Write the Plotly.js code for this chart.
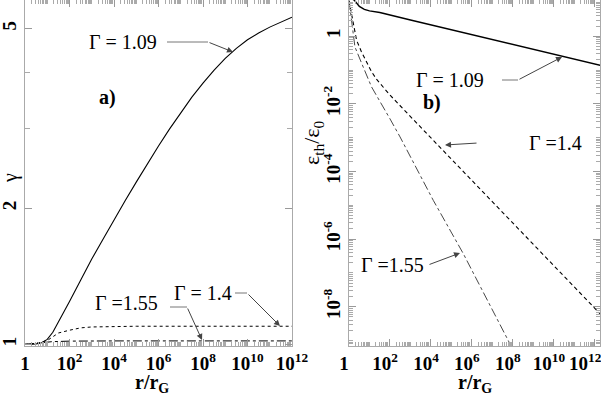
<!DOCTYPE html>
<html>
<head>
<meta charset="utf-8">
<script src="https://cdn.plot.ly/plotly-3.0.1.min.js"></script>
<style>
  body { margin: 0; background: #fff; }
  #plot { width: 601px; height: 397px; }
</style>
</head>
<body>
<div id="plot"></div>
<script>
// ---- panel a) : gamma vs r/r_G ----
const r_a_109 = [1, 3.16, 5.62, 10, 17.8, 31.6, 56.2, 100, 316, 1e3, 3.16e3, 1e4, 3.16e4, 1e5, 3.16e5, 1e6, 3.16e6, 1e7, 3.16e7, 1e8, 3.16e8, 1e9, 3.16e9, 1e10, 3.16e10, 1e11, 3.16e11, 1e12];
const g_a_109 = [1.0, 1.002, 1.009, 1.026, 1.064, 1.119, 1.18, 1.245, 1.387, 1.545, 1.706, 1.886, 2.08, 2.286, 2.512, 2.748, 2.999, 3.258, 3.524, 3.784, 4.046, 4.295, 4.519, 4.721, 4.887, 5.035, 5.164, 5.297];
const r_a_14 = [1, 3.2, 10, 20, 32, 100, 320, 1e3, 1e4, 1e5, 1e8, 1e12];
const g_a_14 = [1.0, 1.005, 1.02, 1.045, 1.06, 1.075, 1.088, 1.093, 1.096, 1.097, 1.097, 1.097];
const r_a_155 = [1, 6.3, 16, 100, 1e4, 1e12];
const g_a_155 = [1.0, 1.008, 1.014, 1.017, 1.018, 1.018];

// ---- panel b) : eps_th/eps_0 vs r/r_G ----
const r_b_109 = [1, 1.8, 3.2, 5.6, 10, 32, 1e3, 1e6, 1e9, 2e12];
const e_b_109 = [14, 11.7, 7.6, 6.2, 5.6, 5.0, 3.0, 1.12, 0.41, 0.136];
const r_b_14 = [1, 1.58, 2.34, 3.98, 7.24, 12.6, 22.4, 50, 100, 1e3, 1e6, 1e9, 2e12];
const e_b_14 = [11.2, 2.4, 0.76, 0.355, 0.166, 0.089, 0.0525, 0.0295, 0.0182, 4.2e-3, 5.4e-5, 6.9e-7, 5.8e-9];
const r_b_155 = [1, 1.41, 1.95, 4.2, 12.6, 100, 310, 1.3e4, 3.8e5, 7.1e7, 1.26e8];
const e_b_155 = [11.2, 2.4, 0.48, 0.155, 0.0316, 3.6e-3, 1.05e-3, 1.4e-5, 3.7e-7, 8.1e-10, 4.2e-10];

// tick labels (labelled decades only; other decades go to minor ticks)
const x_tickvals = [1, 1e2, 1e4, 1e6, 1e8, 1e10, 1e12];
const xa_ticktext = ['1', '10<sup>2</sup>', '10<sup>4</sup>', '10<sup>6</sup>', '10<sup>8</sup>', '10<sup>10</sup>', '10<sup>12</sup>'];
const xb_ticktext = ['1', '10<sup>2</sup>', '10<sup>4</sup>', '10<sup>6</sup>', '10<sup>8</sup>', '10<sup>10</sup>', '10<sup>12</sup>&nbsp;&nbsp;'];
const ya_tickvals = [1, 2, 5];
const ya_ticktext = ['1', '2', '5'];
const yb_tickvals = [1e-8, 1e-6, 1e-4, 1e-2, 1];
const yb_ticktext = ['10<sup>-8</sup>', '10<sup>-6</sup>', '10<sup>-4</sup>', '10<sup>-2</sup>', '1'];

function minor_log(k0, k1, skip){
    let v = [];
    for (let k = k0; k < k1; k++){
        for (let m = 1; m <= 9; m++){
            let t = m * Math.pow(10, k);
            if (m == 1 && skip.includes(t)) continue;
            v.push(t);
        }
    }
    return v;
}

const serif = 'Liberation Serif, Times New Roman, serif';
const W = 601, H = 397;
const M = {l: 25, r: 1, t: 0, b: 51};
// pixel -> paper helpers (for labels / arrows only)
function px(x){ return (x - M.l) / (W - M.l - M.r); }
function py(y){ return (H - M.b - y) / (H - M.t - M.b); }

const traces = [
    {x: r_a_109, y: g_a_109, xaxis: 'x', yaxis: 'y', mode: 'lines', line: {color: '#000', width: 1.1}},
    {x: r_a_14, y: g_a_14, xaxis: 'x', yaxis: 'y', mode: 'lines', line: {color: '#000', width: 1, dash: '3px,3px'}},
    {x: r_a_155, y: g_a_155, xaxis: 'x', yaxis: 'y', mode: 'lines', line: {color: '#000', width: 1, dash: 'dashdot'}},
    {x: r_b_109, y: e_b_109, xaxis: 'x2', yaxis: 'y2', mode: 'lines', line: {color: '#000', width: 1.4}},
    {x: r_b_14, y: e_b_14, xaxis: 'x2', yaxis: 'y2', mode: 'lines', line: {color: '#000', width: 1.1, dash: '4px,3px'}},
    {x: r_b_155, y: e_b_155, xaxis: 'x2', yaxis: 'y2', mode: 'lines', line: {color: '#333', width: 0.9, dash: 'dashdot'}}
];

const tickfont = {family: serif, size: 19, color: '#000', weight: 700};
const axis_common = {
    type: 'log', showgrid: false, zeroline: false,
    showline: true, linecolor: '#aaa', linewidth: 1, mirror: 'ticks',
    ticks: 'inside', ticklen: 7, tickcolor: '#999', tickwidth: 1,
    ticklabeloverflow: 'allow', tickfont: tickfont
};

const lbl = (text, x, y, size, extra) => Object.assign({
    text: text, xref: 'paper', yref: 'paper', x: px(x), y: py(y),
    xanchor: 'center', yanchor: 'middle',
    showarrow: false, font: {family: serif, size: size, color: '#000'}
}, extra || {});
const arrow = (x0, y0, x1, y1) => ({
    text: '', xref: 'paper', yref: 'paper', x: px(x1), y: py(y1),
    ax: x0 - x1, ay: y0 - y1, showarrow: true, arrowhead: 2, arrowsize: 1.2,
    arrowwidth: 1, arrowcolor: '#444', standoff: 0, startstandoff: 0
});
const seg = (x0, y0, x1, y1) => ({
    type: 'line', xref: 'paper', yref: 'paper', x0: px(x0), y0: py(y0), x1: px(x1), y1: py(y1),
    line: {color: '#777', width: 1}
});

const layout = {
    width: W, height: H, margin: M,
    paper_bgcolor: '#fff', plot_bgcolor: '#fff', showlegend: false,
    xaxis: Object.assign({}, axis_common, {domain: [0, px(292)], anchor: 'y', range: [0, 12],
        tickmode: 'array', tickvals: x_tickvals, ticktext: xa_ticktext,
        minor: {tickmode: 'array', tickvals: minor_log(0, 12, x_tickvals), ticks: 'inside', ticklen: 4, tickcolor: '#aaa'}}),
    yaxis: Object.assign({}, axis_common, {anchor: 'x', range: [-0.0035, 0.762],
        tickmode: 'array', tickvals: ya_tickvals, ticktext: ya_ticktext, tickangle: -90,
        minor: {tickmode: 'array', tickvals: [3, 4], ticks: 'inside', ticklen: 5, tickcolor: '#aaa'}}),
    xaxis2: Object.assign({}, axis_common, {domain: [px(349), 1], anchor: 'y2', range: [0, 12.25],
        tickmode: 'array', tickvals: x_tickvals, ticktext: xb_ticktext, ticklabelshift: -5,
        minor: {tickmode: 'array', tickvals: minor_log(0, 13, x_tickvals), ticks: 'inside', ticklen: 4, tickcolor: '#aaa'}}),
    yaxis2: Object.assign({}, axis_common, {anchor: 'x2', range: [-9.16, 1.07],
        tickmode: 'array', tickvals: yb_tickvals, ticktext: yb_ticktext, tickangle: -90,
        minor: {tickmode: 'array', tickvals: minor_log(-10, 2, yb_tickvals), ticks: 'inside', ticklen: 4, tickcolor: '#aaa'}}),
    annotations: [
        lbl('Γ&nbsp;=&nbsp;1.09', 123, 42, 20),
        arrow(208, 42, 233, 52),
        lbl('<b>a)</b>', 107, 97, 20),
        lbl('Γ&nbsp;=&nbsp;1.4', 203, 293, 20),
        arrow(247, 293, 280, 326),
        lbl('Γ&nbsp;=1.55', 127, 303, 20),
        arrow(187, 307, 202, 340),
        lbl('Γ&nbsp;=&nbsp;1.09', 450, 80, 20),
        arrow(518, 80, 562, 57),
        lbl('<b>b)</b>', 432, 102, 20),
        lbl('Γ&nbsp;=1.4', 555, 143, 20),
        arrow(478, 143, 445, 145),
        lbl('Γ&nbsp;=1.55', 392, 265, 20),
        arrow(428, 265, 460, 253),
        lbl('<b>r/r<sub>G</sub></b>', 152, 384, 20),
        lbl('<b>r/r<sub>G</sub></b>', 475, 384, 20),
        lbl('γ', 10, 178, 20, {textangle: -90}),
        lbl('ε<sub>th</sub>/ε<sub>0</sub>', 313, 143, 22, {textangle: -90})
    ],
    shapes: [
        seg(167, 42, 208, 42),
        seg(235, 293, 247, 293),
        seg(170, 307, 187, 307),
        seg(502, 80, 518, 80)
    ]
};

Plotly.newPlot('plot', traces, layout, {staticPlot: true, displayModeBar: false});
</script>
</body>
</html>
